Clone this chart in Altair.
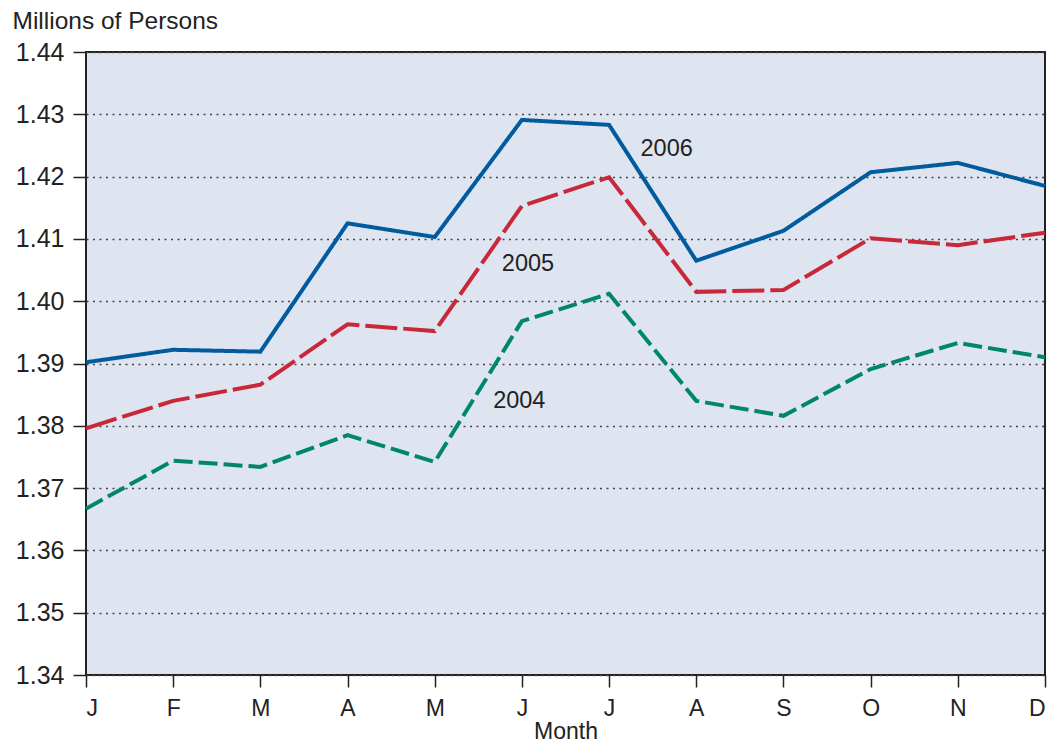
import altair as alt
import pandas as pd

months = ["J", "F", "M", "A", "M", "J", "J", "A", "S", "O", "N", "D"]
v2006 = [1.3902, 1.3922, 1.3919, 1.4125, 1.4103, 1.4291, 1.4283, 1.4065, 1.4113, 1.4207, 1.4222, 1.4185]
v2005 = [1.3796, 1.3840, 1.3866, 1.3963, 1.3952, 1.4153, 1.4199, 1.4015, 1.4018, 1.4101, 1.4090, 1.4110]
v2004 = [1.3667, 1.3744, 1.3734, 1.3785, 1.3742, 1.3968, 1.4012, 1.3840, 1.3816, 1.3891, 1.3933, 1.3910]
label_text = ["2006", "2005", "2004"]
label_x = [6.66, 5.07, 4.97]
label_y = [1.4244, 1.4060, 1.3840]
y_ticks = [1.34, 1.35, 1.36, 1.37, 1.38, 1.39, 1.40, 1.41, 1.42, 1.43, 1.44]

rows = []
for yr, vals in (("2006", v2006), ("2005", v2005), ("2004", v2004)):
    for i, v in enumerate(vals):
        rows.append({"idx": i, "value": v, "year": yr})
df = pd.DataFrame(rows)
lab = pd.DataFrame({"text": label_text, "x": label_x, "y": label_y})

FONT = "Liberation Sans"
label_expr = "[" + ",".join("'%s'" % m for m in months) + "][datum.value]"

xscale = alt.Scale(domain=[0, 11], nice=False, zero=False)
yscale = alt.Scale(domain=[1.34, 1.44], nice=False, zero=False)

colors = {"2006": "#005b9f", "2005": "#c8283a", "2004": "#00876b"}
dashes = {"2006": [1, 0], "2005": [32, 6], "2004": [19, 6]}

layers = []
for yr in ["2004", "2005", "2006"]:
    layers.append(
        alt.Chart(df[df.year == yr]).mark_line(
            color=colors[yr], strokeWidth=4, strokeDash=dashes[yr], strokeCap="butt"
        ).encode(
            x=alt.X("idx:Q", scale=xscale,
                    axis=alt.Axis(values=list(range(12)), labelExpr=label_expr, title="Month",
                                  grid=False, tickSize=12, tickColor="#222", tickWidth=1.5,
                                  domain=False, labelFont=FONT, labelFontSize=23, labelColor="#222",
                                  labelPadding=10, titleFont=FONT, titleFontSize=23,
                                  titleFontWeight="normal", titleColor="#222", titlePadding=0)),
            y=alt.Y("value:Q", scale=yscale,
                    axis=alt.Axis(values=y_ticks, format=".2f", title="Millions of Persons",
                                  grid=True, gridColor="#444", gridDash=[2, 4.5], gridWidth=1.5,
                                  tickSize=13, tickColor="#222", tickWidth=1.5, domain=False,
                                  labelFont=FONT, labelFontSize=25, labelColor="#222",
                                  labelPadding=9,
                                  titleAngle=0, titleAlign="left", titleBaseline="top",
                                  titleX=-74, titleY=-43, titleFont=FONT, titleFontSize=24.5,
                                  titleFontWeight="normal", titleColor="#222")),
        )
    )

text = alt.Chart(lab).mark_text(font=FONT, fontSize=23.5, color="#222", align="center",
                                baseline="middle").encode(
    x=alt.X("x:Q", scale=xscale), y=alt.Y("y:Q", scale=yscale), text="text:N")

chart = alt.layer(*layers, text).properties(
    width=959, height=623,
    autosize=alt.AutoSizeParams(type="none"),
    padding={"left": 78, "top": 44, "right": 4, "bottom": 71},
).configure(background="white").configure_view(
    fill="#dfe5f0", stroke="#222", strokeWidth=2
)

chart.save("out.html", embed_options={"renderer": "svg", "actions": False})
